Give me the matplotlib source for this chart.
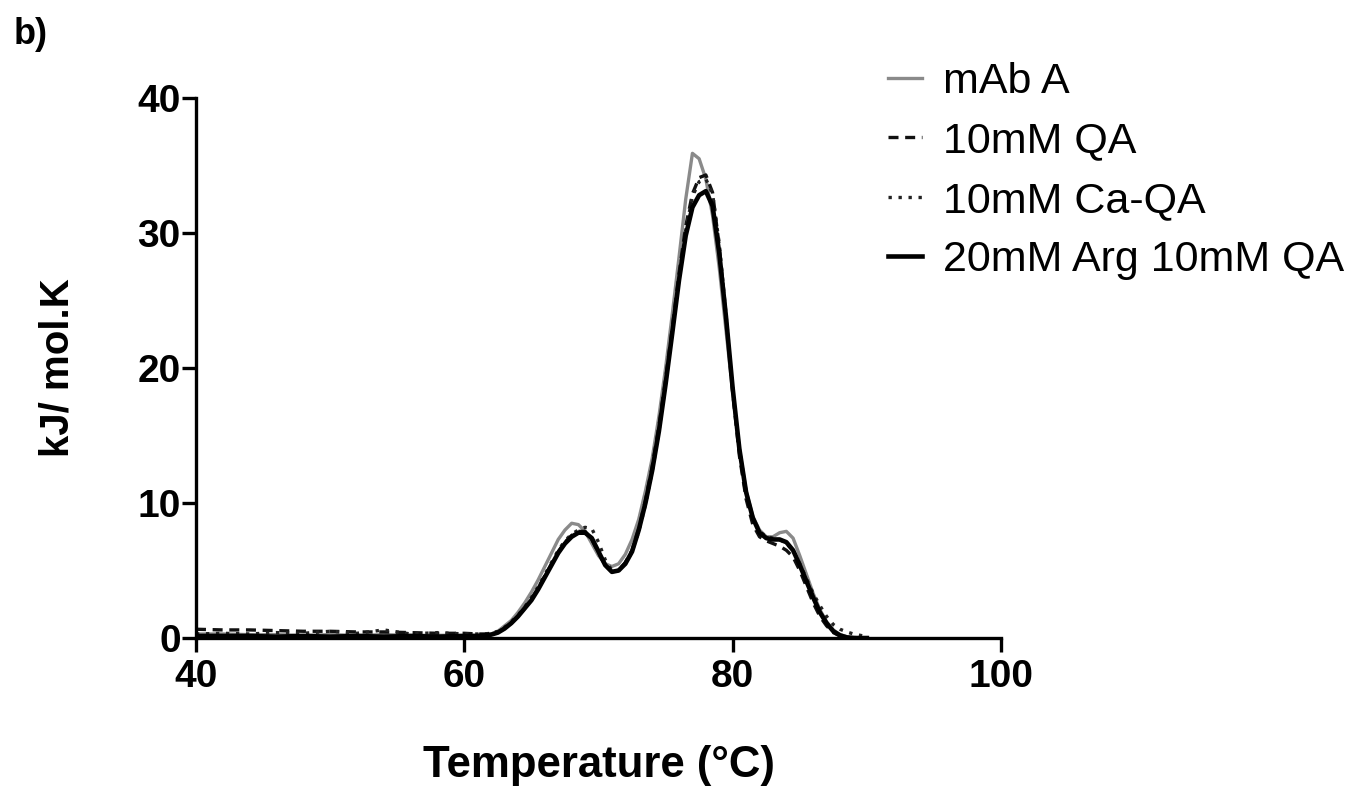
import matplotlib
matplotlib.use("Agg")
import matplotlib.pyplot as plt

plt.rcParams['font.family'] = ['Liberation Sans', 'DejaVu Sans']

temperature = [40, 42, 44, 46, 48, 50, 52, 54, 56, 58, 60,
               61, 61.5, 62, 62.5, 63, 63.5, 64, 64.5, 65, 65.5,
               66, 66.5, 67, 67.5, 68, 68.5, 69, 69.5, 70, 70.5,
               71, 71.5, 72, 72.5, 73, 73.5, 74, 74.5, 75, 75.5,
               76, 76.5, 77, 77.5, 78, 78.5, 79, 79.5, 80, 80.5,
               81, 81.5, 82, 82.5, 83, 83.5, 84, 84.5, 85, 85.5,
               86, 86.5, 87, 87.5, 88, 88.5, 89, 89.5, 90]

mab_a = [0.3, 0.3, 0.25, 0.25, 0.2, 0.25, 0.2, 0.25, 0.2, 0.2, 0.2,
         0.2, 0.25, 0.3, 0.5, 0.9, 1.3, 1.9, 2.6, 3.4, 4.3,
         5.3, 6.3, 7.3, 8.0, 8.5, 8.4, 7.9, 7.0, 6.1, 5.5,
         5.3, 5.5, 6.2, 7.3, 8.8, 10.9, 13.3, 16.4, 20.0, 24.0,
         28.2, 32.5, 35.9, 35.5, 34.0, 31.3, 27.4, 22.8, 18.2, 14.0,
         10.9, 9.0, 8.0, 7.5, 7.5, 7.8, 7.9, 7.4, 6.1, 4.7,
         3.3, 2.1, 1.2, 0.6, 0.25, 0.1, 0.05, 0.0, 0.0]

qa_10 = [0.65, 0.6, 0.6, 0.55, 0.5, 0.5, 0.45, 0.45, 0.4, 0.35, 0.35,
         0.3, 0.3, 0.35, 0.45, 0.7, 1.1, 1.6, 2.2, 2.9, 3.7,
         4.6, 5.5, 6.4, 7.1, 7.6, 7.9, 7.9, 7.3, 6.3, 5.4,
         4.9, 5.0, 5.6, 6.5, 8.1, 10.2, 12.7, 15.7, 19.2, 23.0,
         27.0, 30.5, 32.9, 34.1, 34.3, 33.0, 29.0, 23.8, 18.2, 13.5,
         10.3, 8.4, 7.5, 7.2, 7.0, 6.8, 6.5, 6.0, 5.0, 3.8,
         2.6, 1.6, 0.9, 0.4, 0.15, 0.05, 0.0, 0.0, 0.0]

ca_qa_10 = [0.3, 0.35, 0.3, 0.4, 0.35, 0.5, 0.35, 0.6, 0.3, 0.4, 0.3,
            0.3, 0.3, 0.35, 0.5, 0.8, 1.2, 1.7, 2.3, 3.0, 3.8,
            4.7, 5.6, 6.5, 7.2, 7.7, 8.0, 8.2, 8.1, 7.1, 5.8,
            5.0, 5.0, 5.5, 6.4, 7.9, 9.9, 12.3, 15.3, 18.8, 22.7,
            26.7, 30.2, 32.7, 33.8, 34.0, 32.9, 29.2, 24.0, 18.6, 14.0,
            10.8, 8.9, 7.9, 7.5, 7.4, 7.3, 7.0, 6.5, 5.5, 4.4,
            3.3, 2.4, 1.6, 1.0, 0.65, 0.45, 0.3, 0.2, 0.1]

arg_qa = [0.15, 0.15, 0.15, 0.1, 0.15, 0.1, 0.15, 0.1, 0.15, 0.1, 0.15,
          0.15, 0.2, 0.25, 0.4, 0.7, 1.1, 1.6, 2.2, 2.8, 3.6,
          4.5, 5.4, 6.3, 7.0, 7.5, 7.8, 7.8, 7.4, 6.4, 5.4,
          4.9, 5.0, 5.5, 6.4, 8.0, 10.0, 12.4, 15.3, 18.8, 22.6,
          26.5, 29.8, 31.9, 32.8, 33.1, 32.0, 28.5, 23.8, 18.5, 14.0,
          10.8, 8.9, 7.8, 7.4, 7.3, 7.3, 7.1, 6.5, 5.4, 4.2,
          3.0, 1.9, 1.1, 0.5, 0.2, 0.05, 0.0, 0.0, 0.0]

labels = ["mAb A", "10mM QA", "10mM Ca-QA", "20mM Arg 10mM QA"]
x_ticks = [40, 60, 80, 100]
y_ticks = [0, 10, 20, 30, 40]

fig = plt.figure(figsize=(13.59, 7.87), dpi=100)
ax = fig.add_axes([0.1442, 0.1893, 0.5924, 0.6862])

ax.plot(temperature, mab_a, color='#8a8a8a', lw=2.4, ls='-', label=labels[0])
ax.plot(temperature, qa_10, color='#111111', lw=2.4, ls=(0, (3, 2)), label=labels[1])
ax.plot(temperature, ca_qa_10, color='#222222', lw=2.4, ls=(0, (1, 2)), label=labels[2])
ax.plot(temperature, arg_qa, color='#000000', lw=3.3, ls='-', label=labels[3])

ax.set_xlim(40, 100)
ax.set_ylim(0, 40)
ax.set_xticks(x_ticks)
ax.set_yticks(y_ticks)
for s in ['top', 'right']:
    ax.spines[s].set_visible(False)
for s in ['left', 'bottom']:
    ax.spines[s].set_linewidth(2.4)
ax.tick_params(axis='both', direction='out', length=10, width=2.4, labelsize=28)
ax.tick_params(axis='y', pad=1)
ax.tick_params(axis='x', pad=5)
for t in ax.get_xticklabels() + ax.get_yticklabels():
    t.set_fontweight('bold')

ax.set_xlabel("Temperature (°C)", fontsize=31.5, fontweight='bold', labelpad=36)
ax.set_ylabel("kJ/ mol.K", fontsize=29, fontweight='bold', labelpad=44)

fig.text(0.010, 0.978, "b)", fontsize=26, fontweight='bold', va='top', ha='left')

leg = ax.legend(loc='upper left', bbox_to_anchor=(0.641, 0.943), bbox_transform=fig.transFigure,
                frameon=False, fontsize=31, handlelength=0.79, handletextpad=0.47,
                labelspacing=0.45, borderaxespad=0)

fig.savefig("out.png", dpi=100)
